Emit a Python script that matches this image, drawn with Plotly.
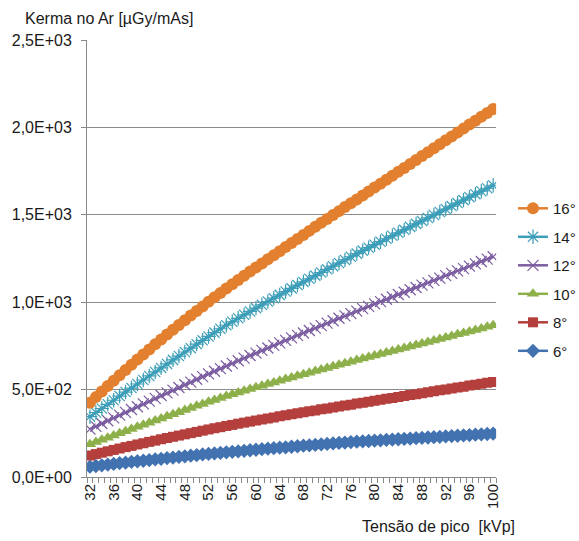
import plotly.graph_objects as go

# Peak tube voltage categories (kVp)
kvp = list(range(32, 101))

# Air kerma per mAs [µGy/mAs] for each anode angle
kerma_6 = [59, 63, 67, 71, 75, 79, 82, 86, 90, 93, 97, 101, 104, 108, 111, 115, 118, 122, 125, 129,
           132, 135, 138, 141, 144, 147, 150, 153, 156, 159, 162, 165, 168, 170, 173, 176, 179, 181,
           184, 187, 189, 192, 195, 197, 200, 202, 204, 206, 208, 210, 212, 214, 216, 218, 220, 222,
           224, 226, 228, 230, 232, 234, 236, 238, 240, 242, 244, 246, 248]
kerma_8 = [123, 131, 139, 147, 155, 163, 171, 178, 186, 193, 201, 208, 216, 223, 230, 237, 244, 251,
           258, 265, 272, 279, 285, 292, 298, 305, 311, 317, 323, 329, 335, 341, 347, 353, 359, 364,
           370, 376, 381, 387, 392, 398, 403, 409, 414, 420, 425, 431, 436, 442, 447, 452, 458, 463,
           469, 474, 479, 485, 490, 496, 501, 506, 512, 517, 523, 528, 533, 539, 544]
kerma_10 = [188, 200, 213, 225, 238, 250, 262, 275, 287, 299, 311, 323, 335, 347, 359, 371, 383, 395,
            407, 418, 430, 441, 452, 463, 473, 483, 493, 503, 513, 522, 532, 541, 551, 560, 569, 579,
            588, 597, 606, 615, 624, 633, 642, 651, 660, 669, 678, 686, 695, 704, 712, 721, 730, 738,
            747, 755, 764, 773, 781, 790, 798, 807, 816, 824, 833, 841, 850, 859, 868]
kerma_12 = [274, 290, 306, 322, 338, 354, 370, 386, 402, 418, 434, 450, 466, 481, 497, 512, 528, 543,
            559, 574, 590, 605, 620, 635, 650, 665, 680, 695, 709, 724, 738, 753, 767, 782, 796, 810,
            824, 838, 852, 866, 880, 894, 908, 922, 935, 949, 963, 976, 990, 1003, 1017, 1030, 1044,
            1057, 1071, 1084, 1098, 1111, 1125, 1138, 1152, 1165, 1179, 1192, 1206, 1219, 1233, 1246,
            1260]
kerma_14 = [345, 369, 392, 416, 439, 463, 486, 509, 532, 555, 578, 601, 624, 647, 670, 692, 715, 737,
            760, 782, 804, 826, 848, 868, 888, 908, 928, 947, 966, 985, 1004, 1023, 1042, 1061, 1079,
            1098, 1116, 1134, 1152, 1170, 1188, 1206, 1224, 1242, 1260, 1278, 1295, 1312, 1329, 1346,
            1363, 1380, 1397, 1414, 1431, 1448, 1465, 1482, 1499, 1516, 1533, 1550, 1567, 1584, 1601,
            1618, 1635, 1652, 1669]
kerma_16 = [425, 457, 489, 520, 551, 582, 612, 642, 672, 701, 730, 759, 787, 815, 843, 870, 897, 924,
            950, 976, 1002, 1028, 1053, 1078, 1103, 1127, 1151, 1175, 1199, 1222, 1246, 1269, 1292,
            1316, 1339, 1362, 1385, 1408, 1431, 1454, 1476, 1499, 1521, 1544, 1566, 1588, 1611, 1633,
            1656, 1678, 1701, 1723, 1746, 1768, 1791, 1813, 1836, 1858, 1881, 1903, 1926, 1948, 1971,
            1993, 2016, 2038, 2061, 2083, 2105]

series_names = ["6°", "8°", "10°", "12°", "14°", "16°"]
series_values = [kerma_6, kerma_8, kerma_10, kerma_12, kerma_14, kerma_16]

y_tickvals = [0, 500, 1000, 1500, 2000, 2500]
y_ticktext = ["0,0E+00", "5,0E+02", "1,0E+03", "1,5E+03", "2,0E+03", "2,5E+03"]
x_tickvals = list(range(32, 101, 4))

styles = {
    "6°": dict(color="#4272B0", symbol="diamond", size=11, lw=0, rank=6),
    "8°": dict(color="#B43F3C", symbol="square", size=10, lw=0, rank=5),
    "10°": dict(color="#8DB04A", symbol="triangle-up", size=11, lw=0, rank=4),
    "12°": dict(color="#7B5DA0", symbol="x-thin-open", size=11, lw=1.2, rank=3),
    "14°": dict(color="#3C9EB8", symbol="asterisk-open", size=12, lw=1.2, rank=2),
    "16°": dict(color="#E2802F", symbol="circle", size=12, lw=0, rank=1),
}

FONT = "Liberation Sans, Arial, sans-serif"

fig = go.Figure()
for name, vals in zip(series_names, series_values):
    s = styles[name]
    fig.add_trace(go.Scatter(
        x=kvp, y=vals, name=name, mode="lines+markers",
        legendgroup=name, legendrank=s["rank"],
        line=dict(color=s["color"], width=2.5),
        marker=dict(symbol=s["symbol"], size=s["size"], color=s["color"],
                    line=dict(color=s["color"], width=s["lw"])),
    ))

fig.update_layout(
    width=579, height=541, autosize=False,
    margin=dict(l=85, r=79, t=40, b=64),
    paper_bgcolor="white", plot_bgcolor="white",
    font=dict(family=FONT, size=16, color="#1a1a1a"),
    showlegend=True,
    legend=dict(
        xref="container", yref="container",
        x=0.886, y=0.645, xanchor="left", yanchor="top",
        traceorder="grouped", tracegroupgap=6,
        font=dict(family=FONT, size=15, color="#1a1a1a"),
        itemwidth=30, bgcolor="rgba(0,0,0,0)",
    ),
    xaxis=dict(
        range=[31.5, 100.5],
        tickmode="array", tickvals=x_tickvals, ticktext=[str(v) for v in x_tickvals],
        tickangle=-90, ticks="", showgrid=False, zeroline=False,
        showline=True, linecolor="#888888", linewidth=1,
        tickfont=dict(family=FONT, size=15, color="#1a1a1a"),
        minor=dict(tickmode="linear", tick0=31.5, dtick=1, ticks="outside",
                   ticklen=5, tickcolor="#888888", tickwidth=1, showgrid=False),
    ),
    yaxis=dict(
        range=[0, 2500],
        tickmode="array", tickvals=y_tickvals, ticktext=y_ticktext,
        ticks="outside", ticklen=5, tickcolor="#888888",
        ticklabelstandoff=6,
        showgrid=True, gridcolor="#8c8c8c", gridwidth=1, zeroline=False,
        showline=True, linecolor="#888888", linewidth=1,
        tickfont=dict(family=FONT, size=16, color="#1a1a1a"),
    ),
    annotations=[
        dict(text="Kerma no Ar [µGy/mAs]", xref="paper", yref="paper",
             x=-0.157, y=1.05, xanchor="left", yanchor="middle", showarrow=False,
             font=dict(family=FONT, size=16, color="#1a1a1a")),
        dict(text="Tensão de pico\u00a0 [kVp]", xref="paper", yref="paper",
             x=1.05, y=-0.114, xanchor="right", yanchor="middle", showarrow=False,
             font=dict(family=FONT, size=16, color="#1a1a1a")),
    ],
)

fig.write_html("out.html")
